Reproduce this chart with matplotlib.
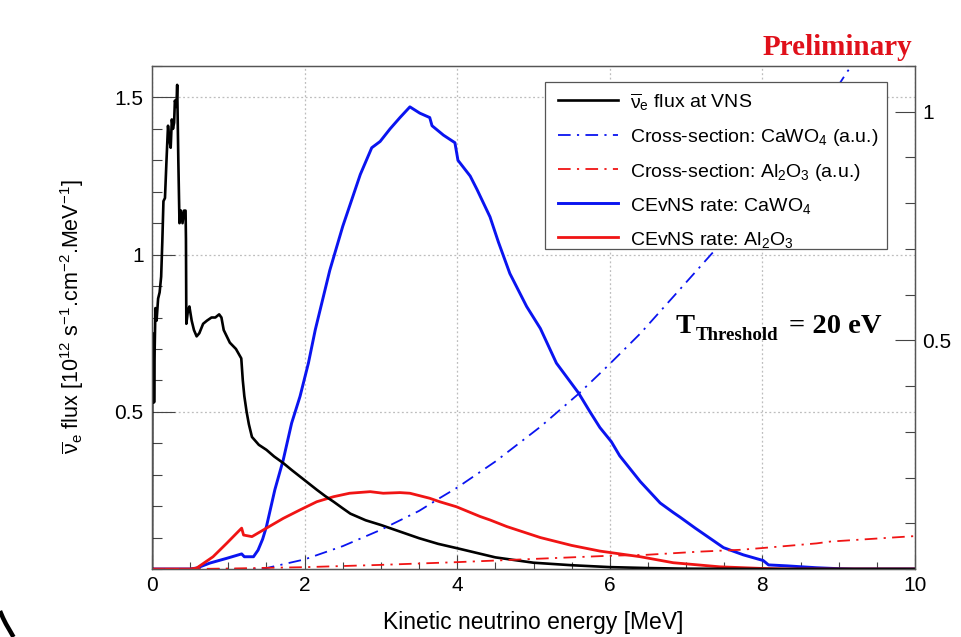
import matplotlib
matplotlib.use("Agg")
import matplotlib.pyplot as plt
from matplotlib.lines import Line2D
from matplotlib.patches import Rectangle
from matplotlib.ticker import MultipleLocator, FixedLocator

plt.rcParams['font.family'] = ['Liberation Sans', 'DejaVu Sans']
plt.rcParams['mathtext.fontset'] = 'custom'
plt.rcParams['mathtext.rm'] = 'Liberation Sans'
plt.rcParams['mathtext.it'] = 'Liberation Sans:italic'
plt.rcParams['mathtext.bf'] = 'Liberation Sans:bold'

# ---------------- data ----------------
flux_E = [0.0, 0.003, 0.008, 0.013, 0.02, 0.027, 0.035, 0.045, 0.06, 0.08, 0.10, 0.12,
          0.135, 0.15, 0.17, 0.19, 0.21, 0.225, 0.245, 0.26, 0.275, 0.29, 0.30, 0.32,
          0.33, 0.345, 0.36, 0.38, 0.40, 0.42, 0.44, 0.445, 0.45, 0.47, 0.49, 0.52,
          0.55, 0.585, 0.62, 0.67, 0.72, 0.78, 0.83, 0.88, 0.91, 0.94, 0.98, 1.02,
          1.10, 1.17, 1.19, 1.21, 1.24, 1.27, 1.31, 1.40, 1.50, 1.60, 1.72, 1.83,
          1.94, 2.05, 2.16, 2.27, 2.38, 2.50, 2.60, 2.80, 3.00, 3.25, 3.50, 3.75,
          4.00, 4.50, 5.00, 5.50, 6.00, 6.50, 7.00, 7.50, 8.00, 9.00, 10.0]
flux_V = [0.0, 0.55, 0.75, 0.58, 0.72, 0.53, 0.70, 0.83, 0.79, 0.86, 0.88, 0.93,
          1.04, 1.17, 1.18, 1.30, 1.41, 1.37, 1.34, 1.43, 1.40, 1.42, 1.49, 1.47,
          1.54, 1.30, 1.10, 1.14, 1.10, 1.14, 1.14, 1.05, 0.78, 0.82, 0.835, 0.79,
          0.76, 0.74, 0.75, 0.78, 0.79, 0.80, 0.80, 0.81, 0.80, 0.76, 0.74, 0.72,
          0.70, 0.67, 0.60, 0.55, 0.50, 0.46, 0.42, 0.395, 0.379, 0.358, 0.337, 0.315,
          0.294, 0.273, 0.252, 0.232, 0.214, 0.193, 0.176, 0.155, 0.140, 0.119, 0.098, 0.080,
          0.066, 0.037, 0.020, 0.012, 0.006, 0.003, 0.001, 0.0005, 0.0, 0.0, 0.0]

rate_caw_E = [0.0, 0.50, 0.585, 0.76, 0.98, 1.175, 1.21, 1.33, 1.39, 1.45, 1.50, 1.61,
              1.72, 1.83, 1.94, 2.05, 2.14, 2.33, 2.50, 2.73, 2.88, 2.99, 3.12, 3.25,
              3.38, 3.51, 3.64, 3.67, 3.82, 3.97, 4.01, 4.17, 4.26, 4.43, 4.54, 4.69,
              4.91, 5.09, 5.30, 5.59, 5.74, 5.87, 6.02, 6.13, 6.40, 6.66, 6.83, 6.92,
              7.12, 7.49, 7.75, 8.01, 8.08, 8.32, 8.71, 9.00, 9.20, 10.0]
rate_caw_V = [0.0, 0.0, 0.003, 0.019, 0.034, 0.048, 0.039, 0.039, 0.060, 0.095, 0.135, 0.252,
              0.347, 0.464, 0.549, 0.655, 0.761, 0.950, 1.090, 1.255, 1.340, 1.360, 1.400, 1.436,
              1.470, 1.450, 1.436, 1.410, 1.380, 1.356, 1.300, 1.250, 1.207, 1.120, 1.040, 0.940,
              0.835, 0.765, 0.655, 0.560, 0.500, 0.450, 0.405, 0.360, 0.278, 0.210, 0.180, 0.165,
              0.130, 0.068, 0.045, 0.027, 0.013, 0.010, 0.004, 0.001, 0.0, 0.0]

rate_al_E = [0.0, 0.50, 0.585, 0.80, 0.98, 1.15, 1.175, 1.20, 1.31, 1.50, 1.72, 1.94,
             2.16, 2.38, 2.59, 2.86, 3.03, 3.25, 3.38, 3.64, 3.77, 3.99, 4.30, 4.43,
             4.65, 5.09, 5.50, 5.87, 6.40, 6.83, 7.44, 7.97, 8.30, 10.0]
rate_al_V = [0.0, 0.0, 0.003, 0.039, 0.082, 0.124, 0.130, 0.108, 0.103, 0.130, 0.161, 0.188,
             0.214, 0.230, 0.241, 0.246, 0.241, 0.243, 0.241, 0.225, 0.214, 0.198, 0.167, 0.156,
             0.135, 0.100, 0.075, 0.057, 0.039, 0.020, 0.007, 0.002, 0.0, 0.0]

xs_caw_E = [0.0, 1.30, 1.50, 2.00, 2.50, 2.99, 3.50, 3.77, 4.00, 4.50, 5.09, 5.59,
            5.96, 6.40, 6.83, 7.36, 8.00, 8.50, 9.11, 9.30]
xs_caw_V = [0.0, 0.0, 0.002, 0.021, 0.050, 0.085, 0.127, 0.155, 0.178, 0.235, 0.311, 0.383,
            0.442, 0.515, 0.595, 0.694, 0.822, 0.930, 1.087, 1.130]

xs_al_E = [0.0, 0.50, 1.00, 2.00, 3.00, 4.00, 5.00, 6.00, 6.48, 7.18, 7.71, 8.01, 8.71, 8.89, 10.0]
xs_al_V = [0.0, 0.0, 0.001, 0.004, 0.009, 0.015, 0.022, 0.029, 0.031, 0.038, 0.042, 0.046, 0.056, 0.060, 0.072]

x_ticks = [0, 2, 4, 6, 8, 10]
y_left_ticks = [0.5, 1.0, 1.5]
y_left_labels = ["0.5", "1", "1.5"]
y_right_ticks = [0.5, 1.0]
y_right_labels = ["0.5", "1"]

NUBAR = r"$\overline{\mathrm{\nu}}_{\mathrm{e}}$"
labels = [NUBAR + " flux at VNS",
          r"Cross-section: CaWO$_4$ (a.u.)",
          r"Cross-section: Al$_2$O$_3$ (a.u.)",
          r"CEvNS rate: CaWO$_4$",
          r"CEvNS rate: Al$_2$O$_3$"]

# ---------------- styles ----------------
W, H = 961, 637
BLUE = '#0a14f0'
RED = '#f01414'
dashdot = (0, (7, 3.5, 1.2, 3.5))
styles = [dict(color='black', lw=1.9, ls='-'),
          dict(color=BLUE, lw=1.3, ls=dashdot),
          dict(color=RED, lw=1.3, ls=dashdot),
          dict(color=BLUE, lw=2.1, ls='-'),
          dict(color=RED, lw=2.0, ls='-')]

def fx(x):
    return x / W

def fy(y):
    return 1 - y / H

fig = plt.figure(figsize=(W / 100, H / 100), dpi=100)
ax = fig.add_axes([fx(152), fy(569), (915 - 152) / W, (569 - 66) / H])
ax2 = ax.twinx()

ax.set_xlim(0, 10)
ax.set_ylim(0, 1.6)
ax2.set_ylim(0, 1.1)

ax.grid(True, which='major', color='#bdbdbd', ls=(0, (1.5, 2)), lw=0.9)

ax.plot(flux_E, flux_V, **styles[0], zorder=5)
ax.plot(rate_caw_E, rate_caw_V, **styles[3], zorder=4)
ax.plot(rate_al_E, rate_al_V, **styles[4], zorder=4)
ax2.plot(xs_caw_E, xs_caw_V, **styles[1])
ax2.plot(xs_al_E, xs_al_V, **styles[2])

# ticks
ax.set_xticks(x_ticks)
ax.set_xticklabels([str(t) for t in x_ticks])
ax.xaxis.set_minor_locator(MultipleLocator(0.5))
ax.set_yticks(y_left_ticks)
ax.set_yticklabels(y_left_labels)
ax.yaxis.set_minor_locator(MultipleLocator(0.1))
ax.tick_params(axis='x', which='major', direction='in', length=10, width=0.8,
               labelsize=15, pad=5, top=False, color='#444444')
ax.tick_params(axis='x', which='minor', direction='in', length=5, width=0.8,
               top=False, color='#444444')
ax.tick_params(axis='y', which='major', direction='in', length=16.5, width=0.8,
               labelsize=15, pad=6, right=False, color='#444444')
ax.tick_params(axis='y', which='minor', direction='in', length=7, width=0.8,
               right=False, color='#444444')

ax2.yaxis.set_major_locator(FixedLocator(y_right_ticks))
ax2.set_yticklabels(y_right_labels)
ax2.yaxis.set_minor_locator(MultipleLocator(0.1))
ax2.tick_params(axis='y', which='major', direction='in', length=14.5, width=0.8,
                labelsize=15, pad=5, color='#444444')
ax2.tick_params(axis='y', which='minor', direction='in', length=7, width=0.8,
                color='#444444')

for a in (ax, ax2):
    for s in a.spines.values():
        s.set_color('#555555')
        s.set_linewidth(0.9)

# axis titles
fig.text(fx(72), fy(317),
         NUBAR + r" flux [10$^{12}$ s$^{\mathrm{-1}}$.cm$^{\mathrm{-2}}$.MeV$^{\mathrm{-1}}$]",
         rotation=90, ha='center', va='center', fontsize=15.5)
fig.text(fx(533), fy(622), "Kinetic neutrino energy [MeV]",
         ha='center', va='center', fontsize=16.5)

# legend (drawn by hand in figure pixels)
fig.add_artist(Rectangle((fx(545), fy(249)), (887 - 545) / W, (249 - 82) / H,
                         transform=fig.transFigure, facecolor='white',
                         edgecolor='#555555', lw=0.9, zorder=10))
row_y = [100, 135, 169, 203, 237]
for i, (lab, st) in enumerate(zip(labels, styles)):
    y = row_y[i]
    fig.add_artist(Line2D([fx(558), fx(618)], [fy(y), fy(y)], transform=fig.transFigure,
                          zorder=11, **st))
    fig.text(fx(630), fy(y), lab, ha='left', va='center_baseline', fontsize=14, zorder=12)

# annotations
serif = ['Liberation Serif', 'DejaVu Serif']
fig.text(fx(676), fy(333), "T", family=serif, weight='bold', fontsize=20.5,
         ha='left', va='baseline')
fig.text(fx(696), fy(340), "Threshold", family=serif, weight='bold', fontsize=13.6,
         ha='left', va='baseline')
fig.text(fx(882), fy(333), "= 20 eV", family=serif, weight='bold', fontsize=20.5,
         ha='right', va='baseline')
fig.text(fx(912), fy(55), "Preliminary", family=serif, weight='bold', fontsize=21,
         color='#e0101a', ha='right', va='baseline')

# dark corner arc from the screenshot
fig.add_artist(Line2D([fx(0), fx(3), fx(6), fx(9.5), fx(13.5)],
                      [fy(611), fy(618), fy(624), fy(630), fy(637)],
                      transform=fig.transFigure, color='black', lw=3.2,
                      solid_capstyle='butt'))

fig.savefig("out.png", dpi=100)
